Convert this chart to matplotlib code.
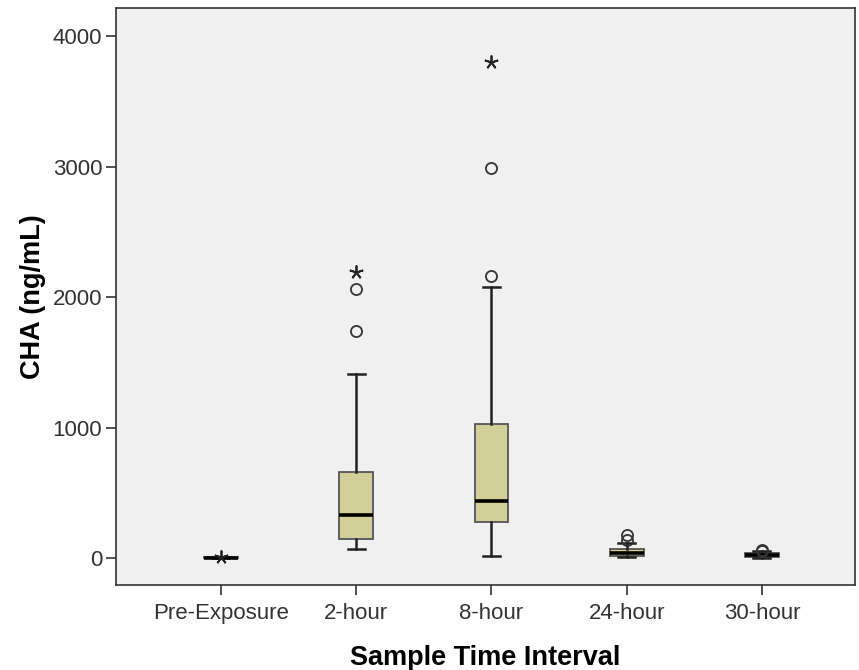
import matplotlib
matplotlib.use("Agg")
import matplotlib.pyplot as plt

categories = ['Pre-Exposure', '2-hour', '8-hour', '24-hour', '30-hour']
q1 = [-3, 146, 276, 15, 8]
medians = [1, 330, 437, 38, 20]
q3 = [5, 659, 1027, 70, 38]
whislo = [-3, 69, 15, 5, 3]
whishi = [5, 1410, 2077, 115, 50]
outliers = [[], [1740, 2061], [2160, 2989], [135, 176], [55, 65]]
extremes = [[8], [2192], [3800], [], []]
yticks = [0, 1000, 2000, 3000, 4000]

plt.rcParams['font.family'] = ['Liberation Sans', 'DejaVu Sans']

fig = plt.figure(figsize=(8.59, 6.70), dpi=100)
ax = fig.add_axes([116/859, 85/670, (855-116)/859, (585-8)/670])
ax.set_facecolor('#F0F0F0')

stats = []
for i, c in enumerate(categories):
    stats.append(dict(label=c, med=medians[i], q1=q1[i], q3=q3[i],
                      whislo=whislo[i], whishi=whishi[i], fliers=[]))
pos = list(range(1, len(categories) + 1))
ax.bxp(stats, positions=pos, widths=0.25, patch_artist=True, showfliers=False,
       boxprops=dict(facecolor='#D3CF98', edgecolor='#555555', linewidth=1.3),
       medianprops=dict(color='black', linewidth=2.6),
       whiskerprops=dict(color='#222222', linewidth=1.8),
       capprops=dict(color='#222222', linewidth=1.8),
       capwidths=0.125)

for p, vals in zip(pos, outliers):
    if vals:
        ax.plot([p]*len(vals), vals, 'o', mfc='none', mec='#333333',
                ms=8, mew=1.3, zorder=5)
for p, vals in zip(pos, extremes):
    if vals:
        ax.plot([p]*len(vals), vals, marker=(5, 2, 0), linestyle='none',
                color='#222222', ms=10, mew=1.3, zorder=5)

ax.set_xlim(0.224, 5.688)
ax.set_ylim(-207, 4215)
ax.set_xticks(pos)
ax.set_xticklabels(categories)
ax.set_yticks(yticks)
ax.tick_params(axis='both', direction='out', length=7, width=1.2,
               color='#333333', labelsize=16, labelcolor='#333333')
ax.tick_params(axis='x', pad=6)
ax.tick_params(axis='y', pad=3)
for s in ax.spines.values():
    s.set_color('#333333')
    s.set_linewidth(1.2)

ax.set_xlabel('Sample Time Interval', fontsize=19.5, fontweight='bold', labelpad=15)
ax.set_ylabel('CHA (ng/mL)', fontsize=19.5, fontweight='bold', labelpad=5)

fig.savefig('out.png', dpi=100, facecolor='white')
